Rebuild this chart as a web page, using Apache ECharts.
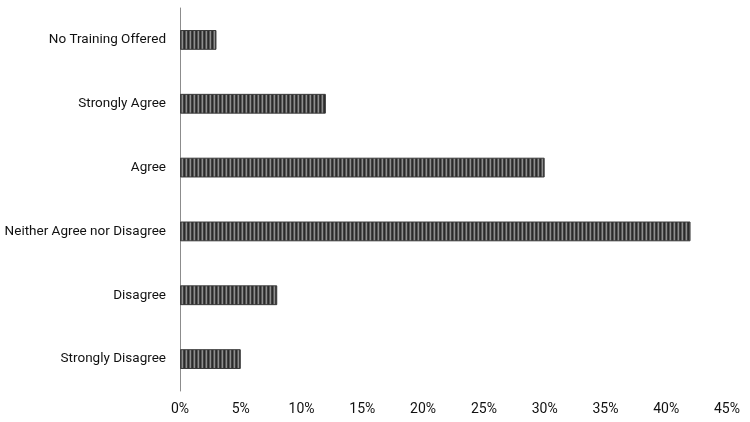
<!DOCTYPE html>
<html>
<head>
<meta charset="utf-8">
<title>Training responses</title>
<script src="https://cdn.jsdelivr.net/npm/echarts@6/dist/echarts.min.js"></script>
<style>
  html, body { margin: 0; padding: 0; background: #fff; }
  #chart { width: 750px; height: 422px; }
</style>
</head>
<body>
<div id="chart"></div>
<script>
// categories bottom to top (echarts category axis starts at the bottom)
var categories = ['Strongly Disagree', 'Disagree', 'Neither Agree nor Disagree', 'Agree', 'Strongly Agree', 'No Training Offered'];
var shares = [5, 8, 42, 30, 12, 3];

// vertical stripe fill for the bars
var stripe = document.createElement('canvas');
stripe.width = 4; stripe.height = 1;
var ctx = stripe.getContext('2d');
var cols = ['#2a2a2a', '#5a5a5a', '#8e8e8e', '#404040'];
for (var i = 0; i < cols.length; i++) { ctx.fillStyle = cols[i]; ctx.fillRect(i, 0, 1, 1); }

var chart = echarts.init(document.getElementById('chart'));
chart.setOption({
  animation: false,
  grid: { left: 180, right: 23, top: 8, bottom: 31, outerBoundsMode: 'none' },
  xAxis: {
    type: 'value',
    min: 0, max: 45, interval: 5,
    axisLine: { show: false },
    axisTick: { show: false },
    splitLine: { show: false },
    axisLabel: { formatter: '{value}%', color: '#111', fontSize: 14, fontFamily: 'Roboto', margin: 11 }
  },
  yAxis: {
    type: 'category',
    data: categories,
    axisLine: { show: true, lineStyle: { color: '#8c8c8c', width: 1 } },
    axisTick: { show: false },
    axisLabel: { color: '#111', fontSize: 13.5, fontFamily: 'Roboto', margin: 14 }
  },
  series: [{
    type: 'bar',
    data: shares,
    barWidth: '31%',
    itemStyle: {
      color: { image: stripe, repeat: 'repeat' },
      borderColor: '#3a3a3a',
      borderWidth: 1
    }
  }]
});
</script>
</body>
</html>
